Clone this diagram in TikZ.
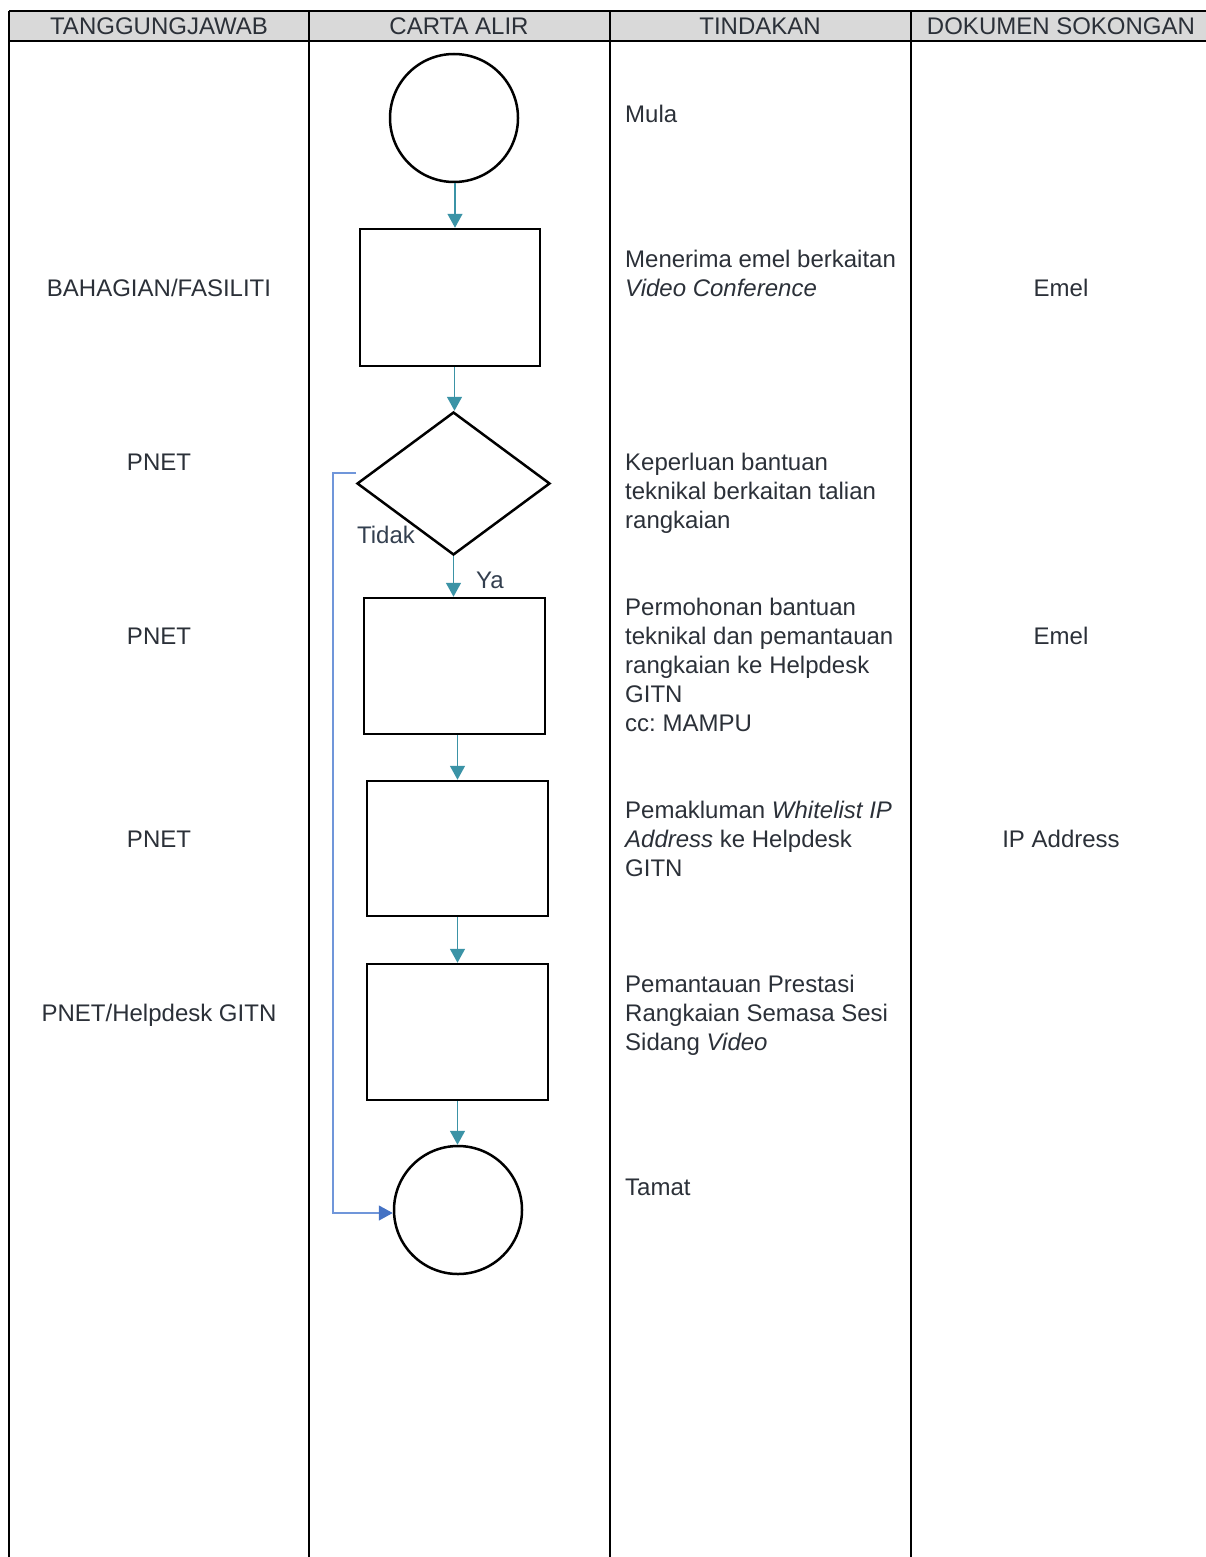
\documentclass[tikz,border=0pt]{standalone}
\usepackage{fontspec}
\setmainfont{Liberation Sans}
\usepackage{tikz}
\usetikzlibrary{shapes.geometric, arrows.meta, positioning, calc}
\definecolor{flowteal}{HTML}{3B93A6}
\definecolor{backblue}{HTML}{7096DA}
\definecolor{backhead}{HTML}{4472C4}
\definecolor{labelslate}{HTML}{333F4F}
\definecolor{inkgray}{HTML}{2B3038}
\definecolor{headfill}{HTML}{D9D9D9}
\tikzset{
  gridline/.style={line width=2pt, black},
  stepbox/.style={draw, line width=2.5pt, rectangle, inner sep=0pt},
  endpoint/.style={draw, line width=2.5pt, circle, minimum size=128, inner sep=0pt},
  choice/.style={draw, line width=2.5pt, diamond, minimum width=193, minimum height=143, inner sep=0pt},
  flow/.style={draw=flowteal, line width=1.5pt, -{Triangle[width=15pt, length=14pt]}},
  back/.style={draw=backblue, line width=1.3pt, -{Triangle[width=15pt, length=14pt, color=backhead]}},
  headtext/.style={font=\fontsize{24}{29}\selectfont, text=inkgray, text height=17.2pt, text depth=0pt, inner sep=0pt},
  celltext/.style={font=\fontsize{24}{29}\selectfont, text=inkgray, text height=17.2pt, text depth=0pt, inner sep=0pt},
  actiontext/.style={font=\fontsize{24}{29}\selectfont\frenchspacing, text=inkgray, align=left, anchor=base west, inner sep=0pt},
  branch/.style={font=\fontsize{24}{29}\selectfont, text=labelslate, text height=17.2pt, text depth=0pt, inner sep=0pt}
}

\begin{document}
\begin{tikzpicture}[x=1pt, y=-1pt]
  \useasboundingbox (0,0) rectangle (1206,1557);

  % Table
  \fill[headfill] (9,11) rectangle (1206,41);
  \draw[gridline] (9,11) -- (1206,11);
  \draw[gridline] (9,41) -- (1206,41);
  \foreach \colx in {9,309,610,911}
    \draw[gridline] (\colx,11) -- (\colx,1557);

  \node[headtext] (hresp) at (159,26) {TANGGUNGJAWAB};
  \node[headtext] (hflow) at (459,26) {CARTA ALIR};
  \node[headtext] (hact) at (760,26) {TINDAKAN};
  \node[headtext] (hdoc) at (1061,26) {DOKUMEN SOKONGAN};

  % Flow chart
  \node[endpoint] (mula) at (454,118) {};
  \node[stepbox, minimum width=180, minimum height=137] (terima) at (450,297.5) {};
  \node[choice] (perlu) at (453.5,483.5) {};
  \node[stepbox, minimum width=181, minimum height=136] (mohon) at (454.5,666) {};
  \node[stepbox, minimum width=181, minimum height=135] (maklum) at (457.5,848.5) {};
  \node[stepbox, minimum width=181, minimum height=136] (pantau) at (457.5,1032) {};
  \node[endpoint] (tamat) at (458,1210) {};

  \draw[flow] ([xshift=1pt]mula.south) -- ([xshift=1pt]mula.south |- terima.north);
  \draw[flow] ([xshift=1pt]perlu.north |- terima.south) -- ([xshift=1pt]perlu.north);
  \draw[flow] (perlu.south) -- (perlu.south |- mohon.north);
  \draw[flow] (maklum.north |- mohon.south) -- (maklum.north);
  \draw[flow] (maklum.south) -- (maklum.south |- pantau.north);
  \draw[flow] (pantau.south) -- (pantau.south |- tamat.north);

  \node[branch] (ya) at (490,580) {Ya};
  \node[branch] (tidak) at (386,535) {Tidak};

  \coordinate (tidakout) at (356,473);
  \coordinate (tidakcorner) at (333,473);
  \draw[back] (tidakout) -- (tidakcorner) |- ([yshift=-3pt]tamat.west);

  % Tanggungjawab
  \node[celltext] (r1) at (159,288) {BAHAGIAN/FASILITI};
  \node[celltext] (r2) at (159,462) {PNET};
  \node[celltext] (r3) at (159,636) {PNET};
  \node[celltext] (r4) at (159,839) {PNET};
  \node[celltext] (r5) at (159,1013) {PNET/Helpdesk GITN};

  % Tindakan
  \node[actiontext] (a0) at (625,122.5) {Mula};
  \node[actiontext] (a1) at (625,296.5) {Menerima emel berkaitan\\\textit{Video Conference}};
  \node[actiontext] (a2) at (625,528.5) {Keperluan bantuan\\teknikal berkaitan talian\\rangkaian};
  \node[actiontext] (a3) at (625,731.5) {Permohonan bantuan\\teknikal dan pemantauan\\rangkaian ke Helpdesk\\GITN\\cc: MAMPU};
  \node[actiontext] (a4) at (625,876.5) {Pemakluman \textit{Whitelist IP}\\\textit{Address} ke Helpdesk\\GITN};
  \node[actiontext] (a5) at (625,1050.5) {Pemantauan Prestasi\\Rangkaian Semasa Sesi\\Sidang \textit{Video}};
  \node[actiontext] (a6) at (625,1195.5) {Tamat};

  % Dokumen sokongan
  \node[celltext] (d1) at (1061,288) {Emel};
  \node[celltext] (d2) at (1061,636) {Emel};
  \node[celltext] (d3) at (1061,839) {IP Address};
\end{tikzpicture}
\end{document}
